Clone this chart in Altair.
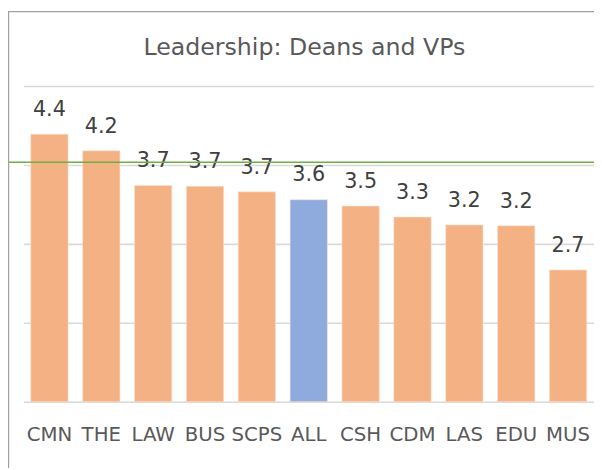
import altair as alt
import pandas as pd

categories = ["CMN", "THE", "LAW", "BUS", "SCPS", "ALL", "CSH", "CDM", "LAS", "EDU", "MUS"]
values = [4.39, 4.18, 3.74, 3.73, 3.66, 3.56, 3.48, 3.34, 3.24, 3.23, 2.67]
highlight = ["no", "no", "no", "no", "no", "yes", "no", "no", "no", "no", "no"]
reference_line = 4.035
grid_values = [1, 2, 3, 4, 5]
title_text = "Leadership: Deans and VPs"

df = pd.DataFrame({"cat": categories, "val": values, "hl": highlight})

W = 578.3
H = 320
PAD_L = 15.7
PAD_T = 76
FONT = "DejaVu Sans"

x = alt.X("cat:N", sort=categories,
          scale=alt.Scale(paddingInner=0.28, paddingOuter=0.14),
          axis=alt.Axis(title=None, labelAngle=0, ticks=False, tickSize=0, domain=False,
                        labelFont=FONT, labelFontSize=20, labelColor="#595959",
                        labelBaseline="alphabetic", labelPadding=39, grid=False))
y = alt.Y("val:Q", scale=alt.Scale(domain=[1, 5], zero=False, nice=False),
          axis=alt.Axis(title=None, labels=False, ticks=False, domain=False,
                        values=grid_values, grid=True, gridColor="#D9D9D9", gridWidth=1.6))

bars = alt.Chart(df).mark_bar(stroke="#FBE3D3", strokeWidth=0.6).encode(
    x=x, y=y, y2=alt.datum(1),
    color=alt.Color("hl:N", scale=alt.Scale(domain=["no", "yes"], range=["#F4B183", "#8FAADC"]), legend=None),
)

labels = alt.Chart(df).mark_text(baseline="alphabetic", dy=-18.5, font=FONT, fontSize=21,
                                 color="#404040").encode(
    x=x, y=y, text=alt.Text("val:Q", format=".1f"))

green = alt.Chart(pd.DataFrame({"v": [reference_line]})).mark_rule(
    color="#70AD47", strokeWidth=1.5).encode(
    y=alt.Y("v:Q"), x=alt.value(-PAD_L), x2=alt.value(W))

frame_left = alt.Chart(pd.DataFrame({"a": [0]})).mark_rule(color="#A0A0A0", strokeWidth=1.2).encode(
    x=alt.value(-PAD_L + 0.6), y=alt.value(-PAD_T), y2=alt.value(H + 80))
frame_top = alt.Chart(pd.DataFrame({"a": [0]})).mark_rule(color="#A0A0A0", strokeWidth=1.2).encode(
    y=alt.value(-PAD_T + 0.6), x=alt.value(-PAD_L), x2=alt.value(W))

title = alt.Chart(pd.DataFrame({"t": [title_text]})).mark_text(
    font=FONT, fontSize=24, color="#595959", baseline="alphabetic", align="center").encode(
    text="t:N", x=alt.value(W / 2 - 4.4), y=alt.value(-31.5))

chart = alt.layer(bars, labels, green, frame_left, frame_top, title).properties(
    width=W, height=H,
    autosize=alt.AutoSizeParams(type="none"),
    padding={"left": PAD_L, "top": PAD_T, "right": 0, "bottom": 64},
).configure_view(stroke=None)

chart.save("out.html", embed_options={"renderer": "svg", "actions": False})
